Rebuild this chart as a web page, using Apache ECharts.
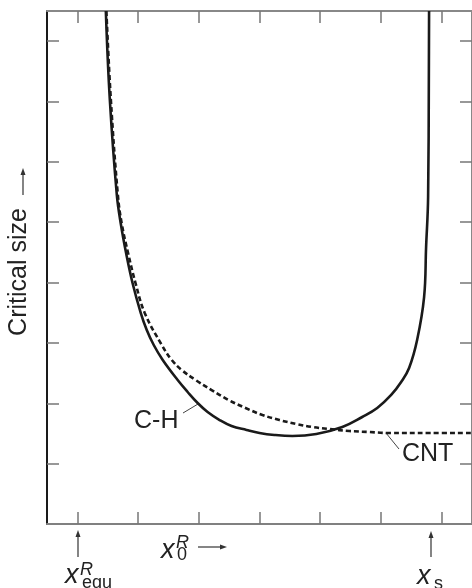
<!DOCTYPE html>
<html>
<head>
<meta charset="utf-8">
<script src="https://cdn.jsdelivr.net/npm/echarts@6/dist/echarts.min.js"></script>
<style>
html,body{margin:0;padding:0;background:#fff;}
#chart{width:472px;height:588px;}
</style>
</head>
<body>
<div id="chart"></div>
<script>
// ---- data ----
var xTicks = [0.5, 1.5, 2.5, 3.5, 4.5, 5.5, 6.5];
var yTicks = [1, 2, 3, 4, 5, 6, 7, 8];
var chX = [0.969, 1.035, 1.150, 1.216, 1.306, 1.413, 1.545, 1.643, 1.758, 1.906, 2.152, 2.317, 2.481, 2.645, 2.843, 3.040, 3.286, 3.500, 3.746, 4.042, 4.436, 4.864, 5.192, 5.439, 5.669, 5.833, 5.964, 6.096, 6.211, 6.244, 6.277, 6.293];
var chY = [8.500, 7.026, 5.452, 4.971, 4.474, 3.977, 3.496, 3.215, 2.966, 2.718, 2.386, 2.187, 2.005, 1.856, 1.723, 1.624, 1.558, 1.508, 1.475, 1.458, 1.491, 1.607, 1.773, 1.922, 2.138, 2.353, 2.585, 3.049, 3.761, 4.590, 5.419, 8.500];
var cntX = [0.978, 1.052, 1.167, 1.232, 1.339, 1.462, 1.610, 1.890, 2.054, 2.218, 2.448, 2.711, 2.990, 3.270, 3.549, 3.828, 4.108, 4.371, 4.650, 4.979, 5.307, 5.636, 6.293, 7.0];
var cntY = [8.500, 7.026, 5.452, 4.971, 4.474, 3.977, 3.496, 2.966, 2.718, 2.552, 2.386, 2.220, 2.055, 1.922, 1.806, 1.723, 1.657, 1.607, 1.574, 1.541, 1.524, 1.508, 1.508, 1.508];
var seriesNames = ['C-H', 'CNT'];
var yAxisTitle = 'Critical size';

function pairs(xs, ys) { return xs.map(function (x, i) { return [x, ys[i]]; }); }

var FONT = "'Liberation Sans', Arial, Helvetica, sans-serif";
var chart = echarts.init(document.getElementById('chart'), null, {renderer: 'canvas'});

var tickStyle = {show: true, inside: true, length: 12, lineStyle: {color: '#777', width: 1.5}};

function xAx(pos, lineColor) {
  return {
    type: 'value', position: pos, min: 0, max: 7,
    axisLine: {show: true, onZero: false, lineStyle: {color: lineColor, width: 2}},
    axisTick: Object.assign({}, tickStyle, {customValues: xTicks}),
    axisLabel: {show: false}, splitLine: {show: false}
  };
}
function yAx(pos, lineColor) {
  return {
    type: 'value', position: pos, min: 0, max: 8.5,
    axisLine: {show: true, onZero: false, lineStyle: {color: lineColor, width: 2}},
    axisTick: Object.assign({}, tickStyle, {customValues: yTicks}),
    axisLabel: {show: false}, splitLine: {show: false}
  };
}

function arrowUp(x, yTip, yTail) {
  return [
    {type: 'line', shape: {x1: x, y1: yTail, x2: x, y2: yTip + 4}, style: {stroke: '#333', lineWidth: 1.2}},
    {type: 'polygon', shape: {points: [[x, yTip], [x - 2.5, yTip + 7], [x + 2.5, yTip + 7]]}, style: {fill: '#333'}}
  ];
}
function arrowRight(y, xTail, xTip) {
  return [
    {type: 'line', shape: {x1: xTail, y1: y, x2: xTip - 4, y2: y}, style: {stroke: '#333', lineWidth: 1.2}},
    {type: 'polygon', shape: {points: [[xTip, y], [xTip - 7, y - 2.5], [xTip - 7, y + 2.5]]}, style: {fill: '#333'}}
  ];
}
function txt(t, x, y, size, opts) {
  opts = opts || {};
  return {
    type: 'text', x: x, y: y, rotation: opts.rotation || 0,
    style: {
      text: t, x: 0, y: 0, fill: '#222',
      font: (opts.italic ? 'italic ' : '') + size + 'px ' + FONT,
      align: opts.align || 'left', verticalAlign: opts.va || 'middle',
      textAlign: opts.align || 'left', textVerticalAlign: opts.va || 'middle'
    }
  };
}

var graphics = [];
// y axis title
graphics.push(txt(yAxisTitle, 19, 272, 25, {rotation: Math.PI / 2, align: 'center'}));
graphics.push({type: 'line', shape: {x1: 23, y1: 195, x2: 23, y2: 172}, style: {stroke: '#333', lineWidth: 1.2}});
graphics.push({type: 'polygon', shape: {points: [[23, 168], [20.5, 175], [25.5, 175]]}, style: {fill: '#333'}});
// x0^R label
graphics.push(txt('x', 161, 550, 27, {italic: true}));
graphics.push(txt('R', 176, 543, 18, {italic: true}));
graphics.push(txt('0', 177, 555, 18));
graphics = graphics.concat(arrowRight(547, 198, 227));
// x_equ^R
graphics = graphics.concat(arrowUp(78, 530, 557));
graphics.push(txt('x', 65, 575, 27, {italic: true}));
graphics.push(txt('R', 80, 570, 18, {italic: true}));
graphics.push(txt('equ', 82, 583, 18));
// x_s
graphics = graphics.concat(arrowUp(431, 531, 557));
graphics.push(txt('x', 417, 576, 27, {italic: true}));
graphics.push(txt('s', 434, 584, 18));
// series annotations
graphics.push(txt(seriesNames[0], 134, 421, 25));
graphics.push({type: 'line', shape: {x1: 183, y1: 413, x2: 198, y2: 404}, style: {stroke: '#444', lineWidth: 1}});
graphics.push(txt(seriesNames[1], 402, 454, 25));
graphics.push({type: 'line', shape: {x1: 386, y1: 433, x2: 399, y2: 449}, style: {stroke: '#444', lineWidth: 1}});

chart.setOption({
  animation: false,
  backgroundColor: '#fff',
  grid: {left: 47, top: 11, width: 426, height: 513, containLabel: false},
  xAxis: [xAx('bottom', '#808080'), xAx('top', '#888')],
  yAxis: [yAx('left', '#1a1a1a'), yAx('right', '#888')],
  series: [
    {
      name: seriesNames[0], type: 'line', xAxisIndex: 0, yAxisIndex: 0,
      data: pairs(chX, chY), showSymbol: false, smooth: 0.4, clip: true,
      lineStyle: {color: '#1a1a1a', width: 2.6}
    },
    {
      name: seriesNames[1], type: 'line', xAxisIndex: 0, yAxisIndex: 0,
      data: pairs(cntX, cntY), showSymbol: false, smooth: 0.4, clip: true,
      lineStyle: {color: '#1a1a1a', width: 2.6, type: [5, 3]}
    }
  ],
  graphic: {elements: graphics}
});
</script>
</body>
</html>
